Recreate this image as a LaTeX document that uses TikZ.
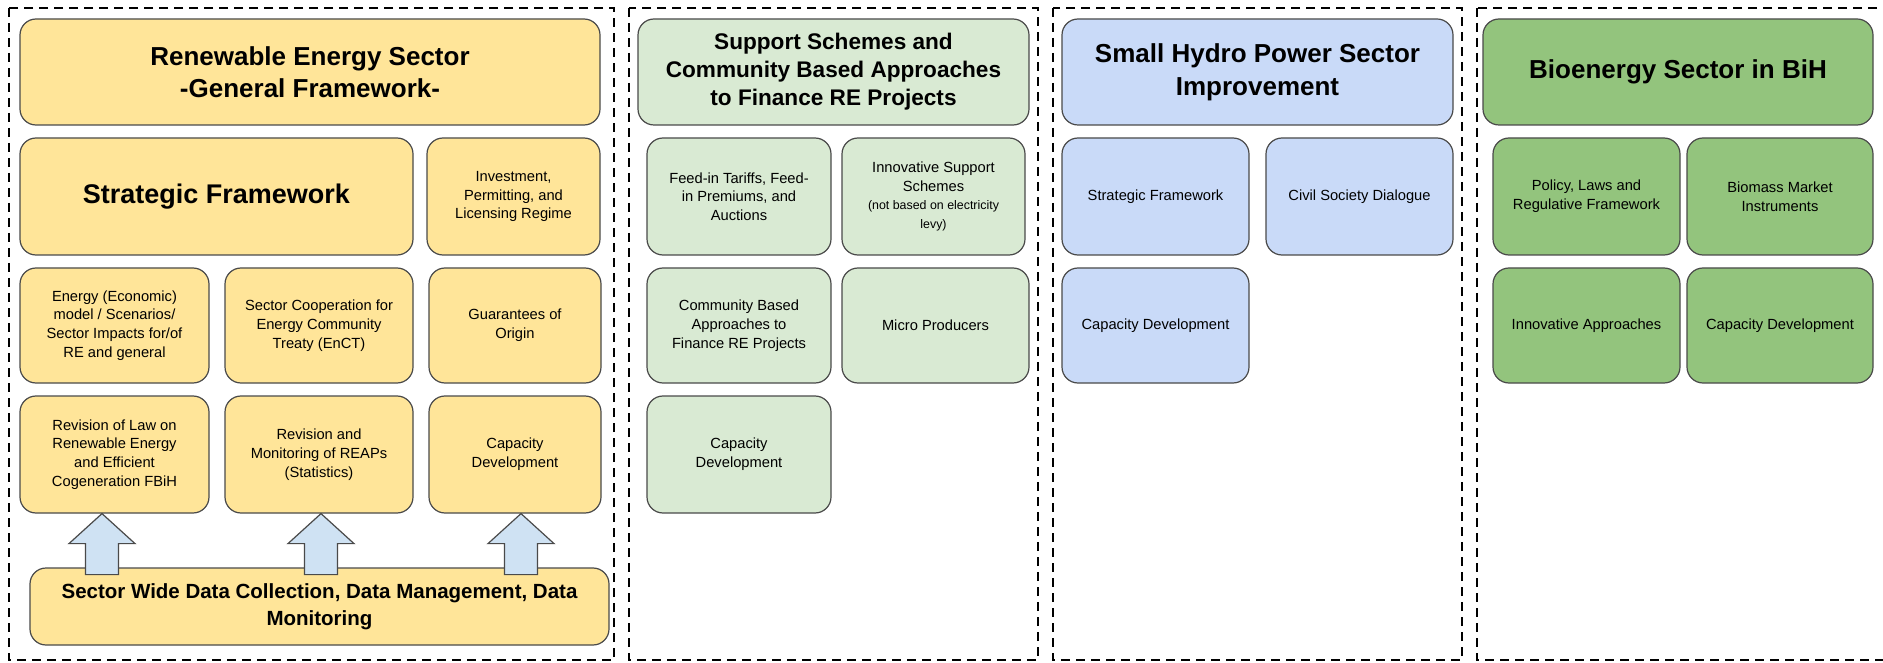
\documentclass[tikz,border=0pt]{standalone}
\usepackage{fontspec}
\setmainfont{Liberation Sans}
\usetikzlibrary{calc}
\definecolor{cyel}{HTML}{FFE599}
\definecolor{clgr}{HTML}{D9EAD3}
\definecolor{cblu}{HTML}{C9DAF8}
\definecolor{cgrn}{HTML}{93C47D}
\definecolor{carr}{HTML}{CFE2F3}
\definecolor{cline}{HTML}{4A4A4A}
\newcommand\smalltxt{\fontsize{12.4}{16}\selectfont}
\tikzset{
  box/.style={draw=cline, line width=1.2pt, rounded corners=16pt, align=center, inner sep=2pt, text=black,
    font=\fontsize{14.7}{18.7}\selectfont},
  ybox/.style={box, fill=cyel},
  gbox/.style={box, fill=clgr},
  bbox/.style={box, fill=cblu},
  dbox/.style={box, fill=cgrn},
  frame/.style={draw=black, line width=2pt, dash pattern=on 9pt off 6pt},
  arr/.style={draw=cline, line width=1.2pt, fill=carr, line join=miter},
  bigt/.style={font=\bfseries\fontsize{26}{32}\selectfont},
}
\begin{document}
\begin{tikzpicture}[x=1pt,y=-1pt]
\useasboundingbox (0,0) rectangle (1883,663);
\clip (0,0) rectangle (1883,663);

% frames
\draw[frame] (9,8) rectangle (614,660);
\draw[frame] (629,8) rectangle (1038,660);
\draw[frame] (1053,8) rectangle (1462,660);
\draw[frame] (1477,8) rectangle (1895,660);

% ---- Frame 1 : yellow
\node[ybox, bigt, minimum width=580pt, minimum height=106pt] (t1) at (310,72)
  {Renewable Energy Sector\\-General Framework-};
\node[ybox, font=\bfseries\fontsize{27}{32}\selectfont, minimum width=393pt, minimum height=117pt] (sf) at (216.5,196.5)
  {Strategic Framework};
\node[ybox, minimum width=173pt, minimum height=117pt] (inv) at (513.5,196.5)
  {Investment,\\Permitting, and\\Licensing Regime};
\node[ybox, minimum width=189pt, minimum height=115pt] (e1) at (114.5,325.5)
  {Energy (Economic)\\model / Scenarios/\\Sector Impacts for/of\\RE and general};
\node[ybox, minimum width=188pt, minimum height=115pt] (e2) at (319,325.5)
  {Sector Cooperation for\\Energy Community\\Treaty (EnCT)};
\node[ybox, minimum width=172pt, minimum height=115pt] (e3) at (515,325.5)
  {Guarantees of\\Origin};
\node[ybox, minimum width=189pt, minimum height=117pt] (r1) at (114.5,454.5)
  {Revision of Law on\\Renewable Energy\\and Efficient\\Cogeneration FBiH};
\node[ybox, minimum width=188pt, minimum height=117pt] (r2) at (319,454.5)
  {Revision and\\Monitoring of REAPs\\(Statistics)};
\node[ybox, minimum width=172pt, minimum height=117pt] (r3) at (515,454.5)
  {Capacity\\Development};
\node[ybox, font=\bfseries\fontsize{20.5}{27}\selectfont, minimum width=579pt, minimum height=77pt] (dc) at (319.5,606.5)
  {Sector Wide Data Collection, Data Management, Data\\Monitoring};

% block arrows from the data box up to the row above
\coordinate (a1) at ($(r1.south)+(-12.5,0)$);
\coordinate (a2) at ($(r2.south)+(2,0)$);
\coordinate (a3) at ($(r3.south)+(6,0)$);
\foreach \a in {a1,a2,a3}{
  \draw[arr] (\a) -- ++(33,30) -- ++(-16.5,0) -- ++(0,31) -- ++(-33,0) -- ++(0,-31) -- ++(-16.5,0) -- cycle;
}

% ---- Frame 2 : light green
\node[gbox, font=\bfseries\fontsize{22.6}{28}\selectfont, minimum width=391pt, minimum height=106pt] (t2) at (833.5,72)
  {Support Schemes and\\Community Based Approaches\\to Finance RE Projects};
\node[gbox, minimum width=184pt, minimum height=117pt] (f1) at (739,196.5)
  {Feed-in Tariffs, Feed-\\in Premiums, and\\Auctions};
\node[gbox, minimum width=183pt, minimum height=117pt] (f2) at (933.5,196.5)
  {Innovative Support\\Schemes\\\smalltxt (not based on electricity\\\smalltxt levy)};
\node[gbox, minimum width=184pt, minimum height=115pt] (f3) at (739,325.5)
  {Community Based\\Approaches to\\Finance RE Projects};
\node[gbox, minimum width=187pt, minimum height=115pt] (f4) at (935.5,325.5)
  {Micro Producers};
\node[gbox, minimum width=184pt, minimum height=117pt] (f5) at (739,454.5)
  {Capacity\\Development};

% ---- Frame 3 : blue
\node[bbox, font=\bfseries\fontsize{26}{33}\selectfont, minimum width=391pt, minimum height=106pt] (t3) at (1257.5,72)
  {Small Hydro Power Sector\\Improvement};
\node[bbox, minimum width=187pt, minimum height=117pt] (h1) at (1155.5,196.5)
  {Strategic Framework};
\node[bbox, minimum width=187pt, minimum height=117pt] (h2) at (1359.5,196.5)
  {Civil Society Dialogue};
\node[bbox, minimum width=187pt, minimum height=115pt] (h3) at (1155.5,325.5)
  {Capacity Development};

% ---- Frame 4 : green
\node[dbox, bigt, minimum width=390pt, minimum height=106pt] (t4) at (1678,72)
  {Bioenergy Sector in BiH};
\node[dbox, minimum width=187pt, minimum height=117pt] (b1) at (1586.5,196.5)
  {Policy, Laws and\\Regulative Framework};
\node[dbox, minimum width=186pt, minimum height=117pt] (b2) at (1780,196.5)
  {Biomass Market\\Instruments};
\node[dbox, minimum width=187pt, minimum height=115pt] (b3) at (1586.5,325.5)
  {Innovative Approaches};
\node[dbox, minimum width=186pt, minimum height=115pt] (b4) at (1780,325.5)
  {Capacity Development};
\end{tikzpicture}
\end{document}
